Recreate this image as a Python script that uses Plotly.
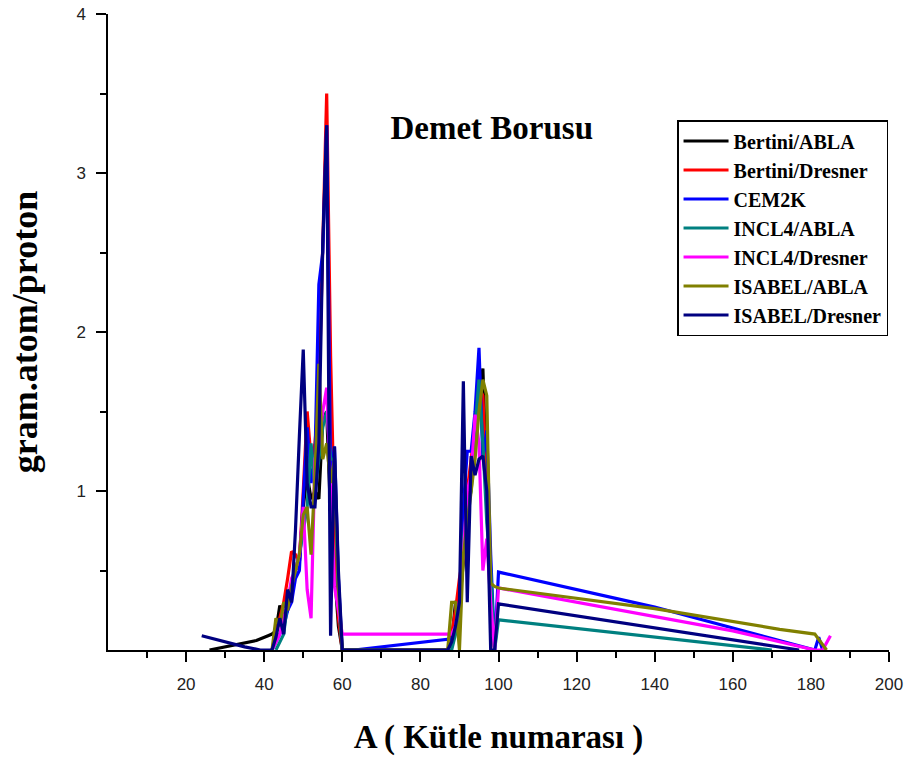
import plotly.graph_objects as go

# Mass-number yields along the beam tube, one array pair per model combination
a_bertini_abla = [26, 30, 34, 38, 41, 42, 43, 44, 45, 46, 47, 48, 49, 50, 51, 52, 53, 54, 55, 56, 57, 58, 59, 60,
                  87, 88, 89, 90, 91, 92, 93, 94, 95, 96, 97, 98, 99]
v_bertini_abla = [0, 0.02, 0.04, 0.06, 0.09, 0.1, 0.12, 0.28, 0.2, 0.25, 0.35, 0.5, 0.55, 0.9, 1.1, 0.95, 1.0, 0.95, 1.45, 1.5, 0.85, 0.5, 0.15, 0,
                  0, 0.05, 0.3, 0.3, 0.55, 0.9, 1.1, 1.3, 1.6, 1.77, 1.0, 0.4, 0]

a_bertini_dresner = [42, 43, 44, 45, 46, 47, 48, 49, 50, 51, 52, 53, 54, 55, 56, 57, 58, 59, 60,
                     87, 88, 89, 90, 91, 92, 93, 94, 95, 96, 97, 98, 99]
v_bertini_dresner = [0, 0.1, 0.2, 0.3, 0.45, 0.62, 0.6, 0.55, 1.0, 1.5, 1.2, 1.3, 1.6, 2.6, 3.5, 1.85, 0.8, 0.2, 0,
                     0, 0.1, 0.25, 0.45, 0.6, 1.0, 1.2, 1.4, 1.65, 1.6, 1.0, 0.3, 0]

a_cem2k = [42, 43, 44, 45, 46, 47, 48, 49, 50, 51, 52, 53, 54, 55, 56, 57, 58, 59, 60, 63,
           88, 89, 90, 91, 92, 93, 94, 95, 96, 97, 98, 99, 100, 140, 181, 182, 183]
v_cem2k = [0, 0.05, 0.1, 0.15, 0.25, 0.3, 0.45, 0.5, 0.95, 1.4, 1.05, 1.2, 2.3, 2.5, 3.3, 1.1, 1.28, 0.45, 0, 0,
           0.07, 0.15, 0.3, 0.9, 1.25, 1.25, 1.5, 1.9, 1.2, 1.38, 0.6, 0, 0.49, 0.27, 0, 0.08, 0]

a_incl4_abla = [43, 44, 45, 46, 47, 48, 49, 50, 51, 52, 53, 54, 55, 56, 57, 58, 59, 60,
                88, 89, 90, 91, 92, 93, 94, 95, 96, 97, 98, 99, 100, 170]
v_incl4_abla = [0, 0.05, 0.1, 0.3, 0.4, 0.5, 0.6, 0.75, 0.9, 1.3, 1.0, 1.2, 1.4, 1.5, 1.2, 1.2, 0.3, 0,
                0, 0.1, 0.25, 0.7, 0.9, 1.0, 1.4, 1.7, 1.3, 0.8, 0.5, 0, 0.19, 0]

a_incl4_dresner = [42, 43, 44, 45, 46, 47, 48, 49, 50, 51, 52, 53, 54, 55, 56, 57, 58, 59, 60,
                   88, 89, 90, 91, 92, 93, 94, 95, 96, 97, 98, 99, 100, 160, 181, 183, 185]
v_incl4_dresner = [0, 0.05, 0.1, 0.2, 0.3, 0.45, 0.5, 0.6, 0.9, 0.38, 0.2, 1.2, 1.3, 1.5, 1.65, 1.0, 0.4, 0.25, 0.1,
                   0.1, 0.15, 0.3, 0.6, 1.0, 1.1, 1.48, 1.3, 0.5, 0.7, 0.3, 0, 0.39, 0.12, 0, 0, 0.09]

a_isabel_abla = [42, 43, 44, 45, 46, 47, 48, 49, 50, 51, 52, 53, 54, 55, 56, 57, 58, 59, 60,
                 87, 88, 89, 90, 91, 92, 93, 94, 95, 96, 97, 98, 99, 100, 140, 172, 181, 184]
v_isabel_abla = [0, 0.2, 0.15, 0.3, 0.25, 0.4, 0.5, 0.6, 0.85, 0.9, 0.6, 1.1, 1.8, 1.2, 1.3, 1.05, 1.2, 0.4, 0,
                 0, 0.3, 0.3, 0, 0.6, 0.8, 1.0, 1.2, 1.5, 1.7, 1.6, 0.42, 0.4, 0.39, 0.26, 0.13, 0.1, 0]

a_isabel_dresner = [24, 30, 35, 39, 42, 43, 44, 45, 46, 47, 48, 49, 50, 51, 52, 53, 54, 55, 56, 57, 58, 59, 60,
                    87, 88, 89, 90, 91, 92, 93, 94, 95, 96, 97, 98, 99, 100, 177]
v_isabel_dresner = [0.09, 0.05, 0.02, 0, 0, 0.08, 0.2, 0.1, 0.38, 0.3, 0.75, 1.34, 1.89, 1.05, 0.9, 0.9, 1.3, 2.55, 3.3, 0.09, 1.28, 0.5, 0,
                    0, 0.05, 0.15, 0.3, 1.69, 0.3, 1.22, 1.1, 1.2, 1.22, 1.0, 0, 0, 0.29, 0]

series = [
    ("Bertini/ABLA", a_bertini_abla, v_bertini_abla, "#000000"),
    ("Bertini/Dresner", a_bertini_dresner, v_bertini_dresner, "#FF0000"),
    ("CEM2K", a_cem2k, v_cem2k, "#0000FF"),
    ("INCL4/ABLA", a_incl4_abla, v_incl4_abla, "#008080"),
    ("INCL4/Dresner", a_incl4_dresner, v_incl4_dresner, "#FF00FF"),
    ("ISABEL/ABLA", a_isabel_abla, v_isabel_abla, "#808000"),
    ("ISABEL/Dresner", a_isabel_dresner, v_isabel_dresner, "#000080"),
]

x_ticks = [20, 40, 60, 80, 100, 120, 140, 160, 180, 200]
x_minor = [10, 30, 50, 70, 90, 110, 130, 150, 170, 190]
y_ticks = [1, 2, 3, 4]
y_minor = [0.5, 1.5, 2.5, 3.5]

serif = "Liberation Serif, Times New Roman, serif"
sans = "Liberation Sans, Arial, sans-serif"

fig = go.Figure()
for name, a, v, color in series:
    fig.add_trace(go.Scatter(
        x=a, y=v, mode="lines", name=name,
        line=dict(color=color, width=3.2),
    ))

axis_common = dict(
    showline=True, linecolor="black", linewidth=1.5, mirror=False,
    showgrid=False, zeroline=False, automargin=False,
    ticks="outside", ticklen=10, tickwidth=1.5, tickcolor="black",
    tickfont=dict(family=sans, size=17, color="#222222"),
)

fig.update_layout(
    width=909, height=758,
    margin=dict(l=108, r=20, t=14, b=108),
    paper_bgcolor="white", plot_bgcolor="white",
    showlegend=True,
    legend=dict(
        x=0.7286, y=0.8333, xanchor="left", yanchor="top",
        bgcolor="white", bordercolor="black", borderwidth=1.5,
        font=dict(family=serif, size=20, color="black", weight="bold"),
        itemwidth=45,
    ),
    title=dict(
        text="Demet Borusu", x=0.541, y=0.8325, xanchor="center", yanchor="middle",
        font=dict(family=serif, size=33, color="black", weight="bold"),
    ),
    xaxis=dict(
        range=[0, 200], tickvals=x_ticks, ticklabelstandoff=8,
        minor=dict(tickvals=x_minor, ticks="outside", ticklen=6, tickwidth=1.5, tickcolor="black"),
        title=dict(text="A ( Kütle numarası )", standoff=32,
                   font=dict(family=serif, size=33, color="black", weight="bold")),
        **axis_common,
    ),
    yaxis=dict(
        range=[0, 4], tickvals=y_ticks, ticklabelstandoff=7,
        minor=dict(tickvals=y_minor, ticks="outside", ticklen=6, tickwidth=1.5, tickcolor="black"),
        title=dict(text="gram.atom/proton", standoff=28,
                   font=dict(family=serif, size=36, color="black", weight="bold")),
        **axis_common,
    ),
)

fig.write_html("out.html")
